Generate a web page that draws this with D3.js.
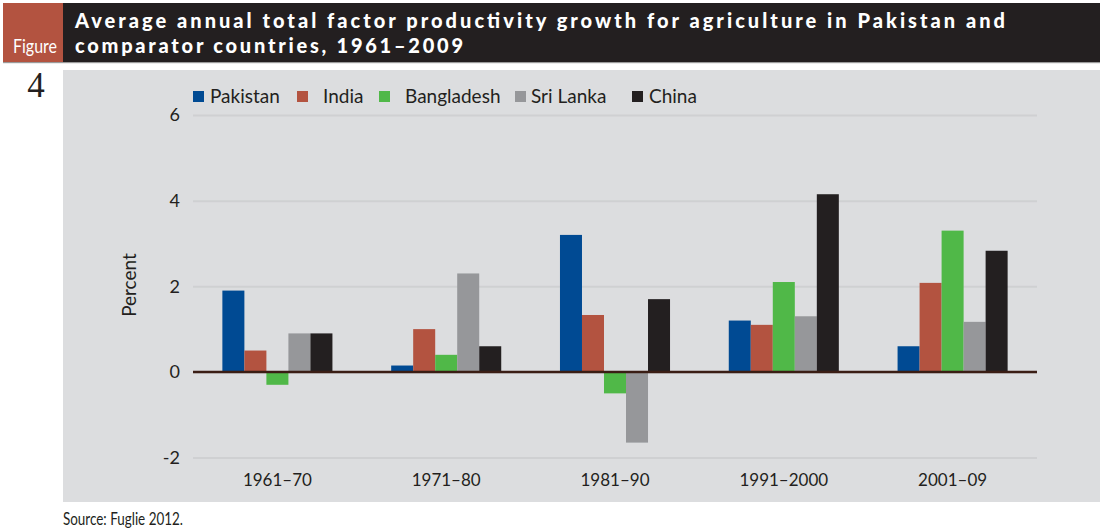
<!DOCTYPE html>
<html>
<head>
<meta charset="utf-8">
<script src="https://cdn.jsdelivr.net/npm/d3@7"></script>
<style>
  html, body { margin: 0; padding: 0; background: #ffffff; }
  svg { display: block; }
  text { font-family: Lato, "Open Sans", sans-serif; }
  text.serif { font-family: "Liberation Serif", "DejaVu Serif", serif; }
</style>
</head>
<body>
<svg id="chart" width="1100" height="531"></svg>
<script>
// ---- Data ----
const titleLines = ["Average annual total factor productivity growth for agriculture in Pakistan and",
                    "comparator countries, 1961\u20132009"];
const categories = ["1961\u201370", "1971\u201380", "1981\u201390", "1991\u20132000", "2001\u201309"];
const seriesNames = ["Pakistan", "India", "Bangladesh", "Sri Lanka", "China"];
const pakistan  = [1.9, 0.15, 3.2, 1.2, 0.6];
const india     = [0.5, 1.0, 1.33, 1.1, 2.08];
const bangladesh= [-0.3, 0.4, -0.5, 2.1, 3.3];
const sriLanka  = [0.9, 2.3, -1.65, 1.3, 1.17];
const china     = [0.9, 0.6, 1.7, 4.15, 2.83];
const yTicks = [-2, 0, 2, 4, 6];
const colors = ["#004a93", "#b35340", "#50b848", "#96979a", "#231f20"];
const seriesValues = [pakistan, india, bangladesh, sriLanka, china];

const svg = d3.select("#chart");

// ---- Header ----
svg.append("rect").attr("x", 3).attr("y", 3).attr("width", 60).attr("height", 59).attr("fill", "#b35340");
svg.append("rect").attr("x", 63).attr("y", 3).attr("width", 1037).attr("height", 59).attr("fill", "#231f20");
svg.append("rect").attr("x", 3).attr("y", 62).attr("width", 1097).attr("height", 1.2).attr("fill", "#9a9a9a");
svg.append("text").attr("x", 13).attr("y", 53).attr("textLength", 44).attr("lengthAdjust", "spacingAndGlyphs")
  .attr("fill", "#ffffff").attr("font-size", 20).text("Figure");
svg.append("text").attr("class", "serif").attr("x", 36).attr("y", 97).attr("text-anchor", "middle")
  .attr("font-size", 35).attr("fill", "#231f20").text("4");
const titleWidths = [930, 388];
titleLines.forEach((t, i) => {
  svg.append("text").attr("x", 75).attr("y", 28 + i * 25)
    .attr("fill", "#ffffff").attr("font-size", 20).attr("font-weight", 900)
    .attr("textLength", titleWidths[i]).attr("lengthAdjust", "spacing")
    .text(t);
});

// ---- Panel ----
svg.append("rect").attr("x", 63).attr("y", 70).attr("width", 1037).attr("height", 432).attr("fill", "#dcdddf");

// ---- Scales ----
const x0 = d3.scaleBand().domain(categories).range([193, 1037]).paddingInner(0.348).paddingOuter(0.174);
const x1 = d3.scaleBand().domain(seriesNames).range([0, x0.bandwidth()]).padding(0);
const y = d3.scaleLinear().domain([-2, 6]).range([457.6, 115]);

// gridlines + y tick labels
const yAxis = d3.axisLeft(y).tickValues(yTicks).tickSize(-(1037 - 193)).tickFormat(d => String(d)).tickPadding(13);
const gy = svg.append("g").attr("transform", "translate(193,0)").call(yAxis);
gy.select(".domain").remove();
gy.selectAll(".tick line").attr("stroke", "#cfd0d2").attr("stroke-width", 2);
gy.selectAll(".tick text").attr("font-size", 18).attr("fill", "#231f20")
  .style("font-family", "Lato, sans-serif").attr("x", -13);

// bars
const groups = svg.append("g").selectAll("g").data(categories).join("g")
  .attr("transform", d => `translate(${x0(d)},0)`);
groups.selectAll("rect")
  .data((c, ci) => seriesNames.map((s, si) => ({ s, si, v: seriesValues[si][ci] })))
  .join("rect")
  .attr("x", d => x1(d.s))
  .attr("width", x1.bandwidth())
  .attr("y", d => y(Math.max(0, d.v)))
  .attr("height", d => Math.abs(y(d.v) - y(0)))
  .attr("fill", d => colors[d.si]);

// zero line
svg.append("line").attr("x1", 193).attr("x2", 1037).attr("y1", y(0)).attr("y2", y(0))
  .attr("stroke", "#3a1d14").attr("stroke-width", 2.5);

// x axis labels
const xAxis = d3.axisBottom(x0).tickSize(0).tickPadding(0);
const gx = svg.append("g").attr("transform", "translate(0,480)").call(xAxis);
gx.select(".domain").remove();
gx.selectAll(".tick text").attr("font-size", 17).attr("fill", "#231f20")
  .style("font-family", "Lato, sans-serif").attr("dy", "0.35em").attr("y", 0);

// y axis title
svg.append("text").attr("transform", "translate(136,285) rotate(-90)").attr("text-anchor", "middle")
  .attr("font-size", 19).attr("fill", "#231f20").text("Percent");

// legend
const legendSquareX = [193, 297, 379, 515, 632];
const legendTextX = [210, 323, 405, 531, 649];
const lg = svg.append("g");
seriesNames.forEach((s, i) => {
  lg.append("rect").attr("x", legendSquareX[i]).attr("y", 91).attr("width", 11).attr("height", 11).attr("fill", colors[i]);
  lg.append("text").attr("x", legendTextX[i]).attr("y", 96.5).attr("dy", "0.35em")
    .attr("font-size", 19).attr("fill", "#231f20").text(s);
});

// source
svg.append("text").attr("x", 63).attr("y", 525).attr("font-size", 17).attr("fill", "#231f20")
  .attr("textLength", 120).attr("lengthAdjust", "spacingAndGlyphs").text("Source: Fuglie 2012.");
</script>
</body>
</html>
